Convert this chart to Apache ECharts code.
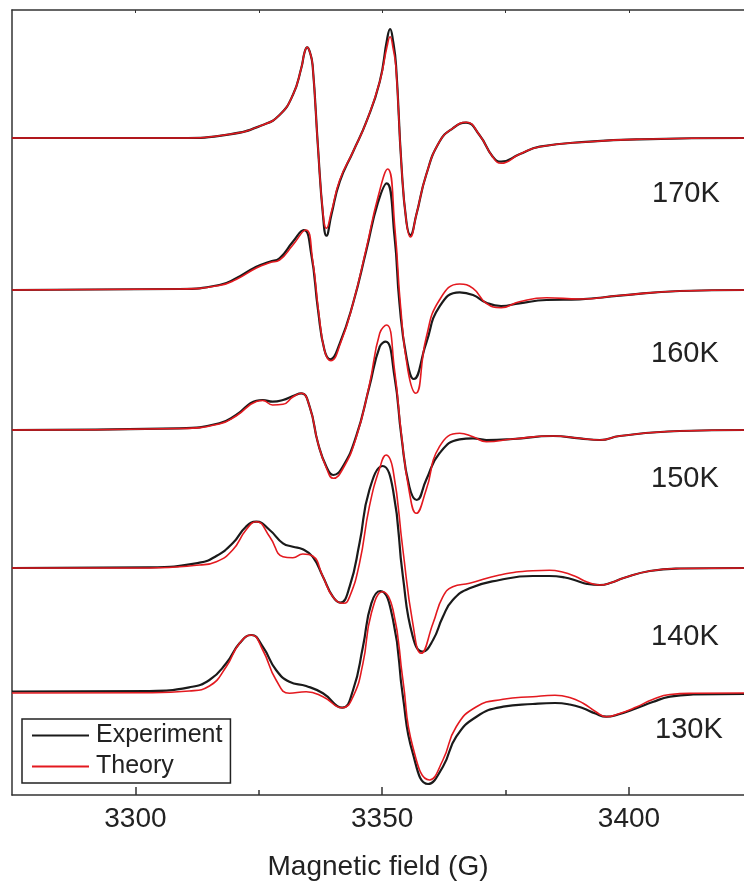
<!DOCTYPE html>
<html>
<head>
<meta charset="utf-8">
<script src="https://cdn.jsdelivr.net/npm/echarts@6.0.0/dist/echarts.min.js"></script>
<style>
  html, body { margin: 0; padding: 0; background: #fff; }
  #main { width: 744px; height: 883px; }
</style>
</head>
<body>
<div id="main"></div>
<script>
// spectra: [field (G), signal (arb. units)], each relative to its own baseline
var temps = ['170K', '160K', '150K', '140K', '130K'];
var offsets = [657, 505, 365, 227, 102];   // baseline of each trace (stacking)

var exp170 = [[3275,0],[3308.9,0],[3319.1,3.7],[3325.8,13],[3329.2,23],[3331.9,43],[3333.6,69.7],[3334.3,86.3],[3334.8,90.7],[3335.4,85],[3335.9,73],[3337.0,-10],[3338.0,-77],[3338.7,-97.7],[3339.7,-77],[3341.4,-43.7],[3344.1,-13.7],[3346.8,16.3],[3349.5,56.3],[3351.0,99],[3351.6,109],[3352.2,97],[3352.8,73],[3353.9,-27],[3354.9,-83.7],[3355.7,-97],[3356.9,-77],[3358.9,-37],[3361.6,-3.7],[3364.3,9.7],[3367.0,15.3],[3369.7,3],[3372.4,-18.7],[3374.1,-23.7],[3377.8,-16.3],[3381.9,-8.7],[3392.0,-3.7],[3402.2,-1.3],[3423.3,0]];
var the170 = [[3275,0],[3308.9,0],[3319.1,3.7],[3325.8,13],[3329.2,23],[3331.9,43],[3333.6,69.7],[3334.3,86.3],[3334.8,90.7],[3335.4,85],[3335.9,73],[3337.0,-10],[3338.0,-75],[3338.7,-90.3],[3339.7,-74],[3341.4,-42],[3344.1,-13.7],[3346.8,16.3],[3349.5,56.3],[3351.0,92],[3351.6,101.3],[3352.2,90],[3352.8,70],[3353.9,-27],[3354.9,-84],[3355.7,-99],[3356.9,-77],[3358.9,-37],[3361.6,-3.7],[3364.3,9.7],[3367.0,15.8],[3369.7,3],[3372.4,-19],[3374.1,-25.3],[3377.8,-16.3],[3381.9,-8.7],[3392.0,-3.7],[3402.2,-1.3],[3423.3,0]];

var exp160 = [[3275,0],[3308.9,1],[3317.0,5],[3320.4,11.7],[3324.5,23.3],[3327.2,28.3],[3329.2,31.7],[3331.9,48.3],[3334.1,60],[3335.6,36.7],[3337.0,-20],[3338.3,-60],[3339.5,-69.3],[3341.4,-53.3],[3344.1,-13.3],[3346.8,40],[3349.1,86.7],[3350.9,106.7],[3352.5,53.3],[3353.5,-13.3],[3354.9,-66.7],[3356.4,-89],[3358.9,-53.3],[3361.6,-16.7],[3365.7,-2.3],[3368.4,-5],[3371.1,-12.7],[3374.1,-16],[3377.8,-13.3],[3383.3,-10],[3390.0,-9.3],[3398.1,-5.7],[3410.3,-1],[3423.3,0]];
var the160 = [[3275,0],[3308.9,1],[3317.0,4.5],[3320.4,10.5],[3324.5,22],[3327.2,27.3],[3329.2,30],[3331.9,45],[3334.5,60],[3335.9,30],[3337.2,-25],[3338.4,-62],[3339.6,-70.7],[3341.5,-54],[3344.1,-13.3],[3346.8,42],[3349.1,92],[3351.1,121],[3352.6,60],[3353.7,-15],[3355.2,-80],[3356.8,-103.3],[3358.9,-48],[3361.6,-10],[3365.7,6],[3368.4,1.7],[3371.1,-13.3],[3374.1,-17.7],[3377.8,-11.7],[3383.3,-7.7],[3390.0,-9],[3398.1,-5.5],[3410.3,-1],[3423.3,0]];

var exp150 = [[3275,0],[3308.9,1.7],[3317.0,6.7],[3320.4,15],[3324.5,29.3],[3325.8,30],[3327.8,28.3],[3329.9,30],[3331.9,34],[3333.6,36.7],[3335.3,23.3],[3337.0,-13.3],[3338.7,-36.7],[3340.1,-45],[3342.0,-36.7],[3344.7,-6.7],[3347.4,43.3],[3349.5,83.3],[3350.7,88.3],[3352.5,53.3],[3353.9,-6.7],[3355.5,-56.7],[3357.0,-70],[3358.9,-50],[3361.6,-23.3],[3365.7,-9.3],[3368.4,-8.3],[3371.1,-10],[3376.5,-9],[3384.6,-6],[3390.0,-8.3],[3394.1,-10],[3398.1,-6],[3410.3,-1],[3423.3,0]];
var the150 = [[3275,0],[3308.9,1.5],[3317.0,6],[3320.4,14],[3324.5,28.5],[3325.8,29.5],[3327.8,25],[3329.9,25.7],[3331.9,33],[3333.6,36.7],[3335.3,23.3],[3337.0,-13.3],[3338.7,-38],[3340.1,-48.3],[3342.0,-39],[3344.7,-8],[3347.4,45],[3349.5,96.7],[3350.9,105],[3352.5,60],[3353.9,-5],[3355.5,-62],[3356.9,-83.3],[3358.9,-60],[3361.6,-16.7],[3365.7,-3.3],[3368.4,-6.7],[3371.1,-11.7],[3376.5,-9],[3384.6,-6],[3390.0,-8.3],[3394.1,-10],[3398.1,-6],[3410.3,-1],[3423.3,0]];

var exp140 = [[3275,0],[3302.8,0.7],[3313.0,5.3],[3316.4,12],[3319.7,24.7],[3322.4,41.3],[3324.5,46.3],[3327.2,38],[3329.9,24.7],[3331.9,21.3],[3333.9,18.7],[3335.9,11.3],[3338.0,-8.7],[3340.0,-28.7],[3341.5,-34.7],[3343.4,-18.7],[3345.4,24.7],[3347.4,78],[3350.1,102],[3352.2,78],[3354.2,-8.7],[3356.2,-68.7],[3358.2,-83.7],[3360.3,-72],[3362.3,-48.7],[3364.3,-32],[3367.7,-20.3],[3373.8,-12],[3380.5,-8],[3383.9,-8],[3387.0,-9.5],[3389.4,-12.8],[3391.5,-15.8],[3394.1,-17],[3396.5,-14.5],[3398.9,-10],[3404.2,-3],[3410.3,-0.5],[3423.3,0]];
var the140 = [[3275,0],[3302.8,0],[3313.0,3],[3316.4,6.3],[3319.7,18],[3322.4,38],[3324.5,46.3],[3327.2,31.3],[3329.9,11.3],[3331.9,10.3],[3333.9,14],[3335.9,12],[3338.0,-8.7],[3340.0,-28.7],[3342.2,-35.3],[3343.4,-28.7],[3345.4,4.7],[3347.4,61.3],[3349.5,100],[3350.8,113],[3352.2,98],[3354.2,18],[3356.2,-55.3],[3357.9,-85.3],[3360.3,-55.3],[3362.3,-28.7],[3364.3,-18.7],[3367.7,-15.3],[3373.8,-7],[3380.5,-2.7],[3383.9,-2.2],[3386.5,-4],[3389.2,-8.5],[3391.5,-14],[3394.1,-17],[3396.5,-14.5],[3398.9,-10],[3404.2,-3],[3410.3,-0.5],[3423.3,0]];

var exp130 = [[3275,1.5],[3302.8,2],[3310.9,5.7],[3315.0,13],[3318.4,29.7],[3321.1,49.7],[3323.5,58],[3325.8,46.3],[3328.5,23],[3331.2,11.3],[3334.6,7],[3338.0,-0.3],[3341.9,-14.7],[3344.1,3],[3346.1,46.3],[3347.8,89.7],[3349.6,102],[3352.2,73],[3354.2,-3.7],[3356.2,-60.3],[3359.3,-91],[3362.3,-73.7],[3365.0,-43.7],[3369.1,-23.7],[3374.5,-13.7],[3380.5,-11],[3385.0,-10],[3388.0,-11.5],[3390.7,-15.3],[3393.2,-20.5],[3395.4,-23.7],[3397.8,-21.5],[3401.5,-15.3],[3404.8,-9],[3408.3,-3.7],[3413.0,-1.5],[3423.3,-1]];
var the130 = [[3275,0],[3302.8,0.3],[3310.9,2],[3315.0,7],[3318.4,26.3],[3321.1,49.7],[3323.5,58],[3325.8,43],[3328.5,13],[3331.2,-0.3],[3334.6,1.3],[3338.0,-3.7],[3341.9,-14.7],[3344.1,-3.7],[3346.1,29.7],[3347.8,79.7],[3350.1,101.3],[3352.2,83],[3354.2,13],[3356.2,-53.7],[3359.6,-87],[3362.3,-67],[3365.0,-33.7],[3369.1,-13.7],[3374.5,-6.3],[3380.5,-3.7],[3385.0,-2.3],[3388.0,-4.5],[3390.7,-10.3],[3393.2,-18.5],[3395.4,-23.7],[3397.8,-21],[3401.5,-14],[3404.8,-6.5],[3408.3,-1.5],[3413.0,-0.3],[3423.3,0]];

var majorTicks = [3300, 3350, 3400];
var minorTicks = [3325, 3375];
var topTicks = [3300, 3325, 3350, 3375, 3400];

(function() {
    var myChart = echarts.init(document.getElementById('main'));

    var expList = [exp170, exp160, exp150, exp140, exp130];
    var theList = [the170, the160, the150, the140, the130];
    var font = 'Liberation Sans, Arial, Helvetica, sans-serif';

    // 把每条谱线抬到自己的基线上
    function shift(arr, off) {
        return arr.map(function(p) { return [p[0], p[1] + off]; });
    }

    var series = [];
    expList.forEach(function(d, i) {
        series.push({
            name: 'Experiment',
            type: 'line',
            symbol: 'none',
            smooth: 0.5,
            lineStyle: { color: '#1a1a1a', width: 2.2 },
            itemStyle: { color: '#1a1a1a' },
            data: shift(d, offsets[i])
        });
    });
    theList.forEach(function(d, i) {
        series.push({
            name: 'Theory',
            type: 'line',
            symbol: 'none',
            smooth: 0.5,
            lineStyle: { color: '#e3191f', width: 1.6 },
            itemStyle: { color: '#e3191f' },
            data: shift(d, offsets[i])
        });
    });

    var axisColor = '#333';

    var option = {
        animation: false,
        backgroundColor: '#fff',
        // outerBoundsMode none: 坐标轴名字可以压到画布底边，网格不要自动缩小
        grid: { left: 12, top: 10, right: 0, bottom: 88, outerBoundsMode: 'none' },
        legend: {
            data: [{ name: 'Experiment', icon: 'rect' }, { name: 'Theory', icon: 'rect' }],
            orient: 'vertical',
            left: 22,
            top: 719,
            itemWidth: 57,
            itemHeight: 2,
            itemGap: 6,
            padding: [4, 8, 4, 10],
            borderColor: '#222',
            borderWidth: 1.5,
            textStyle: { fontSize: 25, color: '#222', fontFamily: font, padding: [0, 0, 0, 2] }
        },
        xAxis: [{
            type: 'value',
            position: 'bottom',
            min: 3275,
            max: 3423.3,
            axisLine: { show: true, lineStyle: { color: axisColor, width: 1.5 } },
            axisTick: { show: true, inside: true, length: 8, customValues: majorTicks, lineStyle: { color: axisColor, width: 1.5 } },
            axisLabel: {
                customValues: majorTicks, fontSize: 28, color: '#222', fontFamily: font, margin: 10,
                formatter: function(v) { return String(v); }
            },
            splitLine: { show: false },
            name: 'Magnetic field (G)',
            nameLocation: 'middle',
            nameGap: 58,
            nameTextStyle: { fontSize: 28, color: '#222', fontFamily: font }
        }, {
            type: 'value',
            position: 'bottom',
            min: 3275,
            max: 3423.3,
            axisLine: { show: false },
            axisTick: { show: true, inside: true, length: 5, customValues: minorTicks, lineStyle: { color: axisColor, width: 1.5 } },
            axisLabel: { show: false },
            splitLine: { show: false }
        }, {
            type: 'value',
            position: 'top',
            min: 3275,
            max: 3423.3,
            axisLine: { show: true, lineStyle: { color: axisColor, width: 1.5 } },
            axisTick: { show: true, inside: true, length: 3, customValues: topTicks, lineStyle: { color: axisColor, width: 1 } },
            axisLabel: { show: false },
            splitLine: { show: false }
        }],
        yAxis: {
            type: 'value',
            min: 0,
            max: 785,
            axisLine: { show: true, lineStyle: { color: axisColor, width: 1.5 } },
            axisTick: { show: false },
            axisLabel: { show: false },
            splitLine: { show: false }
        },
        graphic: [
            { type: 'text', left: 652, top: 179, style: { text: temps[0], font: '29px ' + font, fill: '#222' } },
            { type: 'text', left: 651, top: 339, style: { text: temps[1], font: '29px ' + font, fill: '#222' } },
            { type: 'text', left: 651, top: 464, style: { text: temps[2], font: '29px ' + font, fill: '#222' } },
            { type: 'text', left: 651, top: 622, style: { text: temps[3], font: '29px ' + font, fill: '#222' } },
            { type: 'text', left: 655, top: 715, style: { text: temps[4], font: '29px ' + font, fill: '#222' } }
        ],
        series: series
    };

    myChart.setOption(option);
})();
</script>
</body>
</html>
